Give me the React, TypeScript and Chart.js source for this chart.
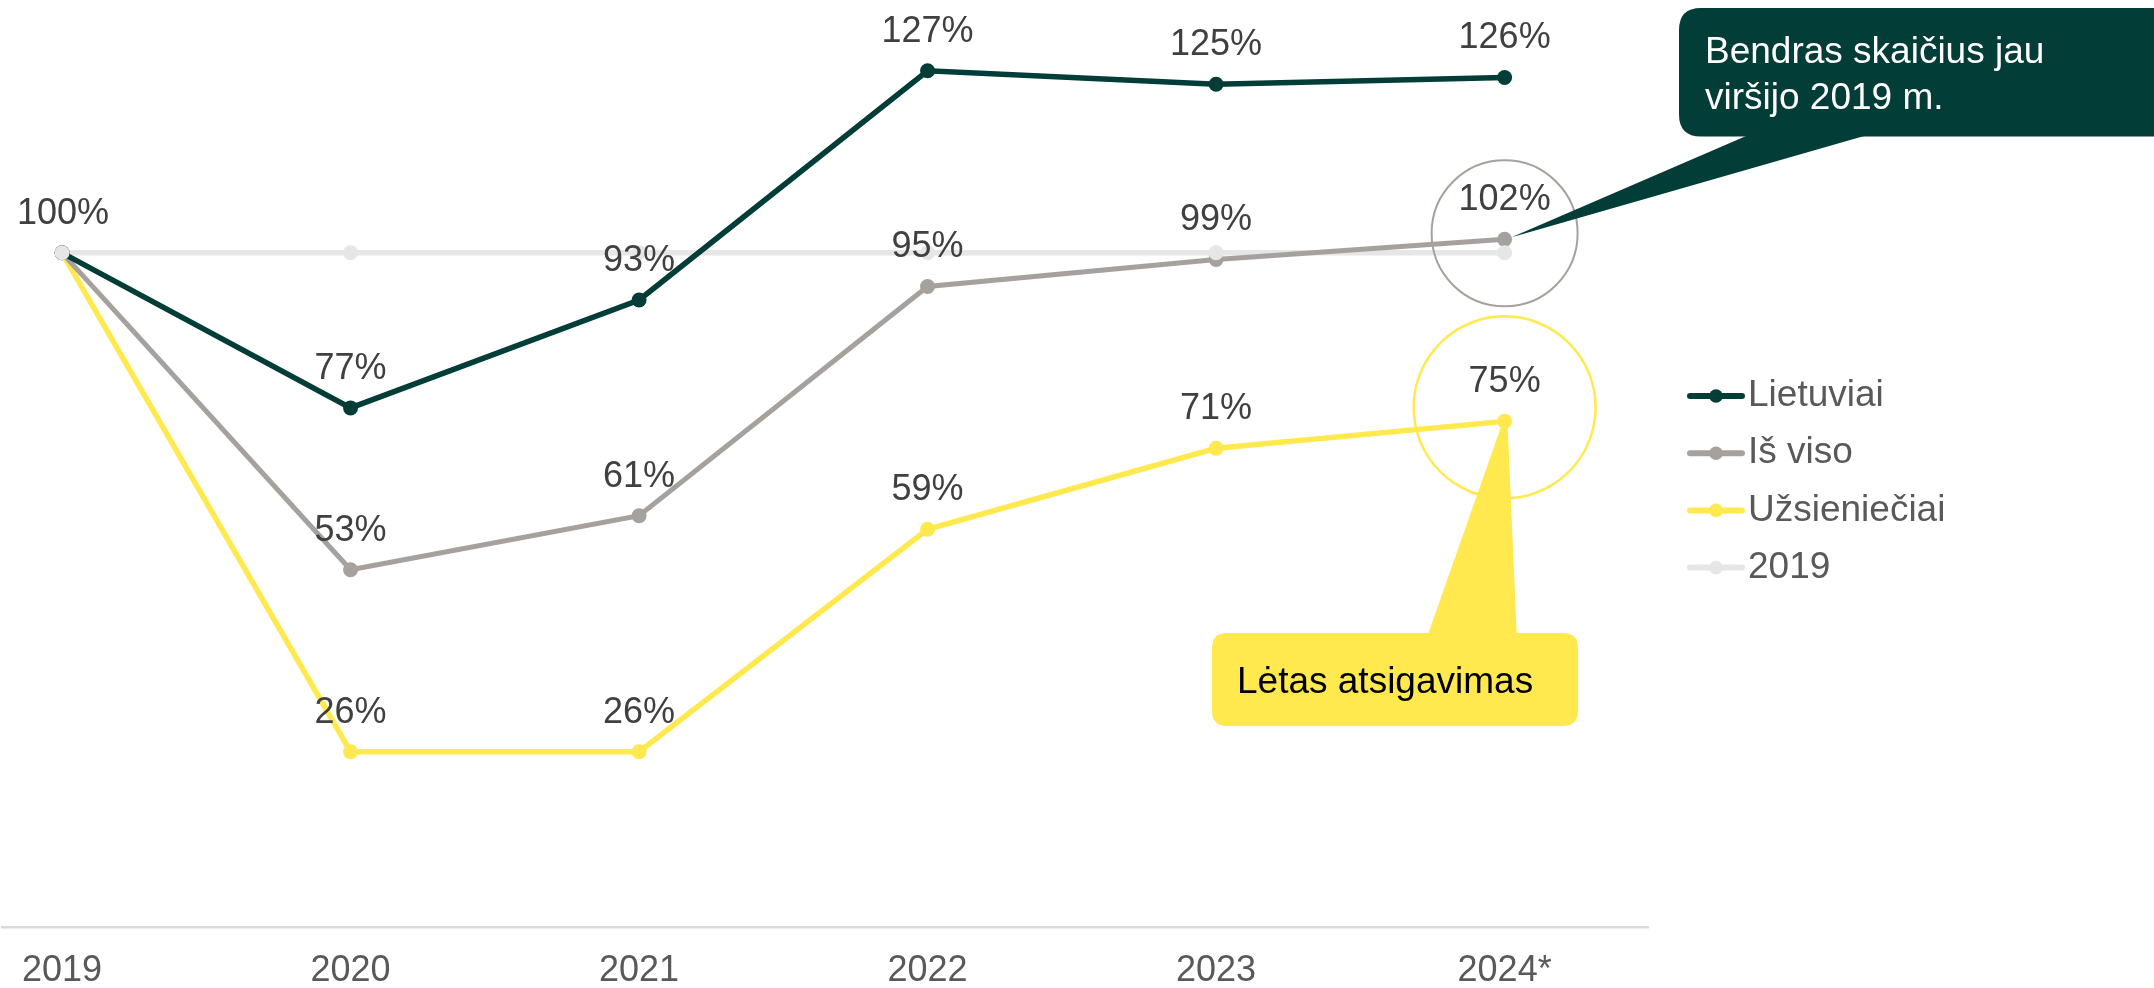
import React, { useEffect, useRef } from "react";
import { Chart, registerables } from "chart.js";

Chart.register(...registerables);

// ---- data ----
const years = ["2019", "2020", "2021", "2022", "2023", "2024*"];
const lietuviai = [100, 77, 93, 127, 125, 126];
const isViso = [100, 53, 61, 95, 99, 102];
const uzsienieciai = [100, 26, 26, 59, 71, 75];
const base2019 = [100, 100, 100, 100, 100, 100];
const seriesNames = ["Lietuviai", "Iš viso", "Užsieniečiai", "2019"];
const seriesColors = ["#033d38", "#a6a19c", "#ffe94e", "#e6e6e6"];
const calloutTopLines = ["Bendras skaičius jau", "viršijo 2019 m."];
const calloutBottomText = "Lėtas atsigavimas";

const FONT = "'Liberation Sans', Arial, sans-serif";
const W = 2154;
const H = 988;

function toPoints(arr: number[]) {
  return arr.map((v, i) => ({ x: i, y: v }));
}

function roundRect(ctx: CanvasRenderingContext2D, x: number, y: number, w: number, h: number, r: number) {
  ctx.beginPath();
  ctx.moveTo(x + r, y);
  ctx.lineTo(x + w - r, y);
  ctx.quadraticCurveTo(x + w, y, x + w, y + r);
  ctx.lineTo(x + w, y + h - r);
  ctx.quadraticCurveTo(x + w, y + h, x + w - r, y + h);
  ctx.lineTo(x + r, y + h);
  ctx.quadraticCurveTo(x, y + h, x, y + h - r);
  ctx.lineTo(x, y + r);
  ctx.quadraticCurveTo(x, y, x + r, y);
  ctx.closePath();
}

const overlayPlugin = {
  id: "overlay",
  afterDraw(chart: any) {
    const ctx: CanvasRenderingContext2D = chart.ctx;
    const xs = chart.scales.x;
    const ys = chart.scales.y;
    const last = years.length - 1;
    const px = xs.getPixelForValue(last);

    ctx.save();
    // highlight circles
    ctx.lineWidth = 2;
    ctx.strokeStyle = seriesColors[1];
    ctx.beginPath();
    ctx.arc(px, ys.getPixelForValue(isViso[last]) - 6, 73, 0, Math.PI * 2);
    ctx.stroke();
    ctx.lineWidth = 2.5;
    ctx.strokeStyle = seriesColors[2];
    ctx.beginPath();
    ctx.arc(px, ys.getPixelForValue(uzsienieciai[last]) - 14, 91, 0, Math.PI * 2);
    ctx.stroke();

    // data labels
    ctx.font = `36px ${FONT}`;
    ctx.fillStyle = "#404040";
    ctx.textAlign = "center";
    ctx.textBaseline = "middle";
    const seriesArr = [lietuviai, isViso, uzsienieciai];
    seriesArr.forEach((arr, di) => {
      const meta = chart.getDatasetMeta(di);
      arr.forEach((v, i) => {
        if (i === 0) return;
        const el = meta.data[i];
        ctx.fillText(`${v}%`, el.x, el.y - 39);
      });
    });
    {
      const meta = chart.getDatasetMeta(3);
      const el = meta.data[0];
      ctx.fillText(`${base2019[0]}%`, el.x + 1, el.y - 39);
    }

    // dark green callout
    const tipX1 = px + 7;
    const tipY1 = ys.getPixelForValue(isViso[last]) - 2;
    ctx.fillStyle = seriesColors[0];
    roundRect(ctx, 1679, 8, 560, 128.5, 22);
    ctx.fill();
    ctx.beginPath();
    ctx.moveTo(1760, 130);
    ctx.lineTo(1885, 130);
    ctx.lineTo(tipX1, tipY1);
    ctx.closePath();
    ctx.fill();
    ctx.fillStyle = "#ffffff";
    ctx.font = `37px ${FONT}`;
    ctx.textAlign = "left";
    ctx.textBaseline = "alphabetic";
    ctx.fillText(calloutTopLines[0], 1705, 63);
    ctx.fillText(calloutTopLines[1], 1705, 109);

    // yellow callout
    const tipX2 = px;
    const tipY2 = ys.getPixelForValue(uzsienieciai[last]) + 4;
    ctx.fillStyle = seriesColors[2];
    roundRect(ctx, 1212, 633, 366, 93, 15);
    ctx.fill();
    ctx.beginPath();
    ctx.moveTo(1426, 640);
    ctx.lineTo(1517, 640);
    ctx.lineTo(tipX2 + 3, tipY2);
    ctx.lineTo(tipX2 - 3, tipY2);
    ctx.closePath();
    ctx.fill();
    ctx.fillStyle = "#000000";
    ctx.fillText(calloutBottomText, 1237, 693);

    // legend
    ctx.font = `37px ${FONT}`;
    ctx.textBaseline = "middle";
    seriesNames.forEach((name, i) => {
      const y = 396 + i * 57.2;
      ctx.strokeStyle = seriesColors[i];
      ctx.lineWidth = 6;
      ctx.lineCap = "round";
      ctx.beginPath();
      ctx.moveTo(1690, y);
      ctx.lineTo(1742, y);
      ctx.stroke();
      ctx.fillStyle = seriesColors[i];
      ctx.beginPath();
      ctx.arc(1716, y, 6.8, 0, Math.PI * 2);
      ctx.fill();
      ctx.fillStyle = "#595959";
      ctx.fillText(name, 1748, y);
    });
    ctx.restore();
  },
};

export default function App() {
  const ref = useRef<HTMLCanvasElement | null>(null);

  useEffect(() => {
    if (!ref.current) return;
    const mk = (label: string, arr: number[], color: string, width: number, radius: number, extra: any = {}) => ({
      label,
      data: toPoints(arr),
      borderColor: color,
      backgroundColor: color,
      borderWidth: width,
      pointRadius: radius,
      pointBackgroundColor: color,
      pointBorderWidth: 0,
      pointHoverRadius: radius,
      tension: 0,
      ...extra,
    });
    const chart = new Chart(ref.current, {
      type: "line",
      data: {
        datasets: [
          mk(seriesNames[0], lietuviai, seriesColors[0], 5.5, 7.5),
          mk(seriesNames[1], isViso, seriesColors[1], 5, 7.5),
          mk(seriesNames[2], uzsienieciai, seriesColors[2], 5.5, 7.5),
          mk(seriesNames[3], base2019, seriesColors[3], 5.5, 0),
          mk(seriesNames[3] + " points", base2019, seriesColors[3], 0, 7.5, { showLine: false, order: -1 }),
        ],
      },
      options: {
        responsive: false,
        maintainAspectRatio: false,
        animation: false,
        devicePixelRatio: 1,
        layout: { autoPadding: false, padding: { left: 0, right: W - 1648, top: 0, bottom: 0 } },
        plugins: {
          legend: { display: false },
          tooltip: { enabled: false },
        },
        events: [],
        scales: {
          x: {
            type: "linear",
            min: -0.2077,
            max: 5.497,
            grid: { display: false, drawTicks: false },
            border: { display: true, color: "#d9d9d9", width: 2.5 },
            afterBuildTicks: (scale: any) => {
              scale.ticks = years.map((_, i) => ({ value: i }));
            },
            afterFit: (scale: any) => {
              scale.height = 61;
            },
            ticks: {
              padding: 22,
              autoSkip: false,
              maxRotation: 0,
              color: "#595959",
              font: { family: FONT, size: 36, lineHeight: 1.2 },
              callback: (v: any) => years[Math.round(Number(v))] ?? "",
            },
          },
          y: {
            display: false,
            min: 0,
            max: 137.5,
          },
        },
      },
      plugins: [overlayPlugin],
    } as any);
    return () => chart.destroy();
  }, []);

  return (
    <div style={{ position: "fixed", left: 0, top: 0, width: W, height: H, background: "#ffffff" }}>
      <canvas ref={ref} width={W} height={H} style={{ width: W, height: H, display: "block" }} />
    </div>
  );
}
